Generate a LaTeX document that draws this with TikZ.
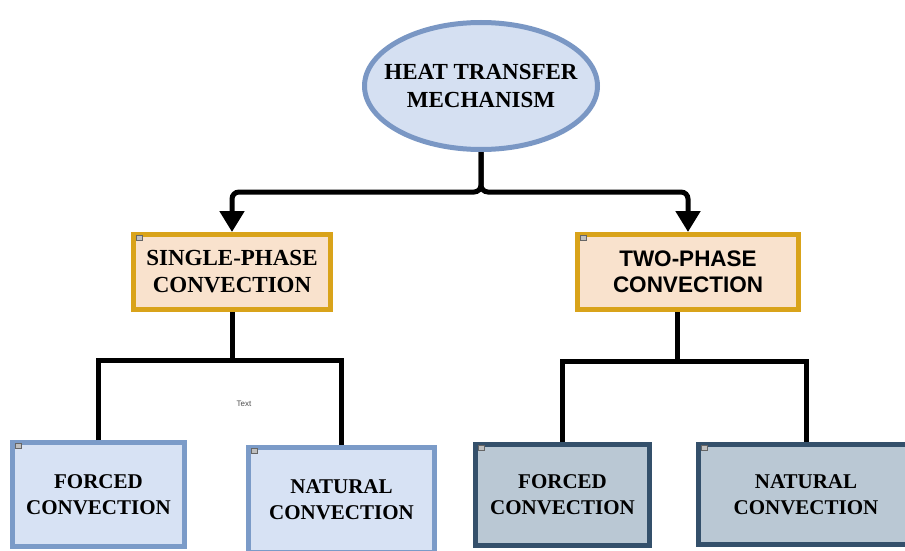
\documentclass[tikz,border=0pt]{standalone}
\usepackage{fontspec}
\setmainfont{Liberation Serif}
\newfontfamily\arialfont{Liberation Sans}
\usetikzlibrary{shapes.geometric,arrows.meta}

\definecolor{ovalfill}{HTML}{D5E0F2}
\definecolor{ovalline}{HTML}{7A97C4}
\definecolor{goldfill}{HTML}{F9E2CD}
\definecolor{goldline}{HTML}{D9A31A}
\definecolor{paleblue}{HTML}{D7E2F4}
\definecolor{paleline}{HTML}{7B9BC8}
\definecolor{slatefill}{HTML}{BAC8D4}
\definecolor{slateline}{HTML}{34506B}

\tikzset{
	head/.style={ellipse, draw=ovalline, fill=ovalfill, line width=5pt, minimum width=233pt, minimum height=127pt, inner sep=0pt},
	headtext/.style={align=center, inner sep=0pt, font=\bfseries\fontsize{23}{28}\selectfont},
	phase/.style={rectangle, draw=goldline, fill=goldfill, line width=5pt, minimum height=75pt, inner sep=0pt, align=center},
	mode/.style={rectangle, line width=5pt, inner sep=0pt, align=center, font=\bfseries\fontsize{21}{26}\selectfont},
	feed/.style={line width=5pt, rounded corners=7pt, -{Triangle[length=21pt,width=24pt]}},
	link/.style={line width=5pt},
	icon/.style={draw=black!60, fill=black!25, line width=0.6pt, minimum width=6pt, minimum height=5pt, inner sep=0pt}
}

\begin{document}
\begin{tikzpicture}[x=1pt,y=-1pt]
		\useasboundingbox (0,0) rectangle (905,551);
		
		\node[head, label={[headtext]center:HEAT TRANSFER\\MECHANISM}] (heat) at (481,86) {};
		
		\node[phase, minimum width=197pt, font=\bfseries\fontsize{23}{27}\selectfont] (single) at (232,272) {SINGLE-PHASE\\CONVECTION};
		\node[phase, minimum width=221pt, font=\arialfont\bfseries\fontsize{22.5}{26}\selectfont] (two) at (688,272) {TWO-PHASE\\CONVECTION};
		
		\node[mode, draw=paleline, fill=paleblue, minimum width=172pt, minimum height=104pt] (forcedL) at (98.5,494.5) {FORCED\\CONVECTION};
		\node[mode, draw=paleline, fill=paleblue, minimum width=186pt, minimum height=105pt] (naturalL) at (341.5,500) {NATURAL\\CONVECTION};
		\node[mode, draw=slateline, fill=slatefill, minimum width=174pt, minimum height=101pt] (forcedR) at (562.5,495) {FORCED\\CONVECTION};
		\node[mode, draw=slateline, fill=slatefill, minimum width=215pt, minimum height=100pt] (naturalR) at (806,494.5) {NATURAL\\CONVECTION};
		
		\foreach \b in {single,two,forcedL,naturalL,forcedR,naturalR} {
			\node[icon] at ([shift={(8,6)}]\b.north west) {};
		}
		
		\node[font=\arialfont\fontsize{8}{9}\selectfont, text=black!70] (note) at (244,404) {Text};
		
		\coordinate (split) at (481,192);
		\coordinate (hubL) at (single.south |- 0,360);
		\coordinate (hubR) at (677,361);
		
		\draw[feed] (heat.south) -- (split) -| (single.north);
		\draw[feed] (heat.south) -- (split) -| (two.north);
		
		\draw[link] (single.south) -- (hubL);
		\draw[link] (forcedL.north) |- (hubL) -| (naturalL.north);
		\draw[link] (hubR |- two.south) -- (hubR);
		\draw[link] (forcedR.north) |- (hubR) -| (naturalR.north);
	\end{tikzpicture}
\end{document}
